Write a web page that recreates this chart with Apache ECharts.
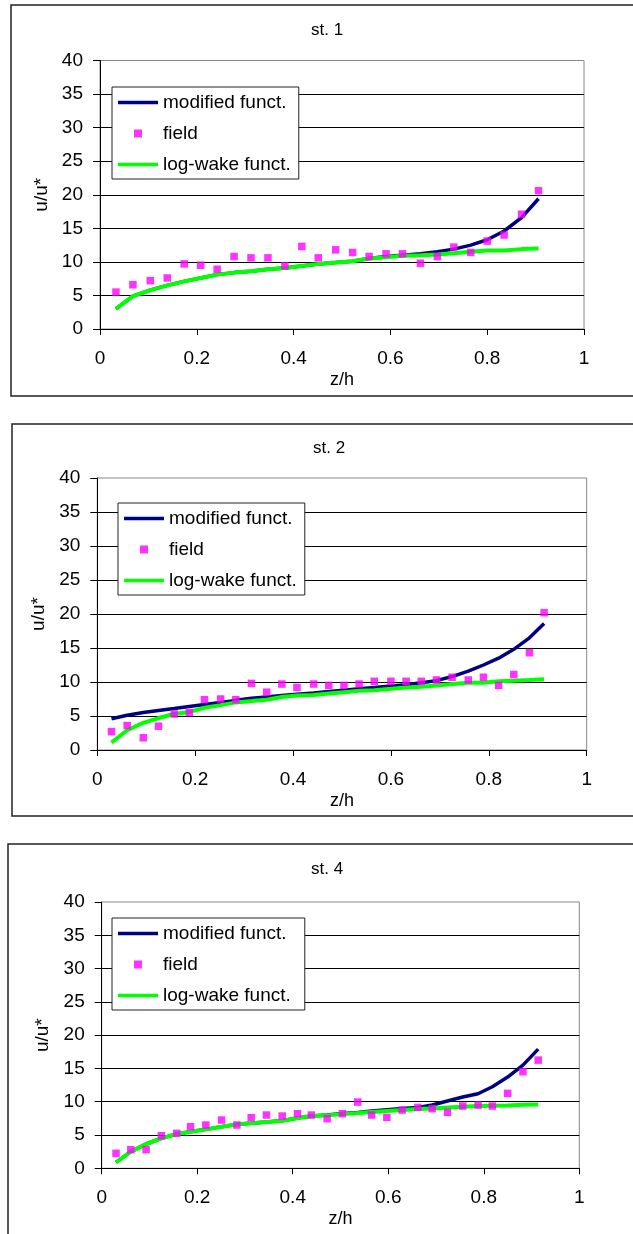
<!DOCTYPE html>
<html><head><meta charset="utf-8">
<script src="https://cdn.jsdelivr.net/npm/echarts@6/dist/echarts.min.js"></script>
<style>html,body{margin:0;padding:0;background:#fff}#c{width:633px;height:1234px}</style>
</head><body><div id="c"></div>
<script>
// ---------- data ----------
const seriesNames = ['modified funct.', 'field', 'log-wake funct.'];
const chartTitles = ['st. 1', 'st. 2', 'st. 4'];
const xTickValues = [0, 0.2, 0.4, 0.6, 0.8, 1];
const yTickValues = [0, 5, 10, 15, 20, 25, 30, 35, 40];
const xAxisName = 'z/h';
const yAxisName = 'u/u*';

// st. 1
const z1 = [0.033,0.068,0.104,0.139,0.174,0.208,0.242,0.277,0.312,0.347,0.382,0.417,0.451,0.487,0.522,0.556,0.591,0.625,0.662,0.697,0.731,0.766,0.800,0.835,0.871,0.906];
const field1 = [5.5,6.6,7.2,7.6,9.7,9.5,8.9,10.8,10.6,10.6,9.4,12.3,10.6,11.8,11.4,10.8,11.2,11.2,9.8,10.8,12.2,11.4,13.1,14.0,17.1,20.6];
const logwake1 = [3.0,4.9,5.8,6.5,7.1,7.6,8.1,8.4,8.6,8.9,9.1,9.4,9.7,9.9,10.1,10.5,10.7,10.9,11.0,11.1,11.3,11.5,11.7,11.7,11.9,12.0];
const modified1 = [3.0,4.9,5.8,6.5,7.1,7.6,8.1,8.4,8.6,8.9,9.1,9.4,9.7,9.9,10.1,10.5,10.8,11.0,11.2,11.5,11.9,12.5,13.3,14.6,16.6,19.4];

// st. 2
const z2 = [0.029,0.061,0.094,0.125,0.157,0.188,0.219,0.252,0.283,0.315,0.346,0.377,0.408,0.442,0.473,0.504,0.535,0.566,0.600,0.631,0.662,0.693,0.725,0.758,0.789,0.820,0.851,0.883,0.913];
const field2 = [2.7,3.6,1.8,3.5,5.3,5.5,7.4,7.5,7.4,9.8,8.5,9.7,9.2,9.7,9.5,9.5,9.7,10.1,10.1,10.1,10.1,10.3,10.7,10.3,10.7,9.5,11.1,14.3,20.2];
const logwake2 = [1.1,2.9,4.0,4.7,5.3,5.6,6.2,6.6,7.0,7.2,7.4,7.8,8.0,8.1,8.3,8.5,8.7,8.8,9.0,9.2,9.3,9.5,9.7,9.9,9.9,10.1,10.2,10.3,10.4];
const modified2 = [4.6,5.1,5.5,5.8,6.1,6.4,6.7,7.0,7.3,7.6,7.8,8.0,8.2,8.4,8.6,8.8,9.0,9.2,9.4,9.6,9.9,10.2,10.8,11.6,12.5,13.5,14.8,16.5,18.6];

// st. 4
const z3 = [0.030,0.061,0.093,0.125,0.157,0.186,0.218,0.251,0.283,0.313,0.345,0.378,0.410,0.439,0.472,0.504,0.536,0.565,0.597,0.629,0.662,0.692,0.724,0.756,0.788,0.818,0.850,0.882,0.914];
const field3 = [2.25,2.8,2.8,4.9,5.25,6.25,6.5,7.25,6.5,7.6,8.0,7.85,8.2,8.0,7.45,8.2,9.95,8.0,7.65,8.75,9.15,8.95,8.4,9.35,9.5,9.35,11.25,14.5,16.25];
const logwake3 = [0.9,2.5,3.65,4.5,5.15,5.5,5.85,6.25,6.6,6.75,6.95,7.15,7.55,7.85,7.95,8.15,8.3,8.45,8.6,8.75,8.9,9.0,9.15,9.25,9.35,9.4,9.45,9.55,9.6];
const modified3 = [0.9,2.5,3.65,4.5,5.15,5.5,5.85,6.25,6.6,6.75,6.95,7.15,7.55,7.85,8.0,8.25,8.4,8.6,8.8,9.0,9.15,9.5,10.1,10.7,11.2,12.25,13.7,15.5,17.9];

// ---------- layout (positions only) ----------
const FONT = '"Liberation Sans", Arial, sans-serif';
const LINE_ICON = 'path://M0,0H40V3.5H0Z';
const SQUARE_ICON = 'path://M0,0H8V8H0Z';
const panels = [
  {z: z1, mod: modified1, fld: field1, lw: logwake1,
   grid: {left: 100, top: 60.5, width: 484, height: 268.5},
   title: {left: 311, top: 21.5}, legend: {left: 112, top: 87, pr: 8},
   frame: {x: 11, y: 5, w: 700, h: 391}},
  {z: z2, mod: modified2, fld: field2, lw: logwake2,
   grid: {left: 97.3, top: 478, width: 489.4, height: 272},
   title: {left: 313, top: 439.5}, legend: {left: 118, top: 503, pr: 8},
   frame: {x: 12, y: 424, w: 700, h: 392}},
  {z: z3, mod: modified3, fld: field3, lw: logwake3,
   grid: {left: 101.7, top: 902, width: 477.6, height: 266.3},
   title: {left: 311, top: 860.5}, legend: {left: 112, top: 918, pr: 14},
   frame: {x: 8, y: 844, w: 700, h: 500}}
];

const zip = (xs, ys) => xs.map((x, i) => [x, ys[i]]);

const option = {
  animation: false,
  backgroundColor: '#fff',
  textStyle: {fontFamily: FONT},
  title: [], legend: [], grid: [], xAxis: [], yAxis: [], series: [],
  graphic: []
};

panels.forEach((p, i) => {
  option.graphic.push({
    type: 'rect', z: -10, silent: true,
    shape: {x: p.frame.x, y: p.frame.y, width: p.frame.w, height: p.frame.h},
    style: {fill: 'none', stroke: '#222', lineWidth: 1.5}
  });
  option.title.push({
    text: chartTitles[i], left: p.title.left, top: p.title.top, padding: 0,
    textStyle: {fontFamily: FONT, fontSize: 17, fontWeight: 'normal', color: '#000'}
  });
  option.legend.push({
    left: p.legend.left, top: p.legend.top, orient: 'vertical',
    padding: [6, p.legend.pr, 5, 6], itemGap: 12, itemWidth: 40, itemHeight: 8,
    backgroundColor: '#fff', borderColor: '#222', borderWidth: 1,
    selectedMode: false, symbolKeepAspect: true,
    itemStyle: {borderWidth: 0},
    textStyle: {fontFamily: FONT, fontSize: 19, color: '#000', padding: [0, 0, 0, 0]},
    data: [
      {name: seriesNames[0], icon: LINE_ICON},
      {name: seriesNames[1], icon: SQUARE_ICON},
      {name: seriesNames[2], icon: LINE_ICON}
    ]
  });
  option.grid.push(Object.assign({show: true, borderColor: '#888', borderWidth: 1, backgroundColor: 'transparent', containLabel: false}, p.grid));
  option.xAxis.push({
    type: 'value', gridIndex: i,
    min: xTickValues[0], max: xTickValues[xTickValues.length - 1],
    interval: xTickValues[1] - xTickValues[0],
    name: xAxisName, nameLocation: 'middle', nameGap: 42,
    nameTextStyle: {fontFamily: FONT, fontSize: 18, color: '#000'},
    axisLine: {show: true, onZero: false, lineStyle: {color: '#000', width: 1}},
    axisTick: {show: true, inside: false, length: 6, lineStyle: {color: '#000'}},
    axisLabel: {fontFamily: FONT, fontSize: 19, color: '#000', margin: 20},
    splitLine: {show: false}
  });
  option.yAxis.push({
    type: 'value', gridIndex: i,
    min: yTickValues[0], max: yTickValues[yTickValues.length - 1],
    interval: yTickValues[1] - yTickValues[0],
    name: yAxisName, nameLocation: 'middle', nameGap: 48, nameRotate: 90,
    nameTextStyle: {fontFamily: FONT, fontSize: 19, color: '#000'},
    axisLine: {show: true, onZero: false, lineStyle: {color: '#000', width: 1}},
    axisTick: {show: true, inside: false, length: 7, lineStyle: {color: '#000'}},
    axisLabel: {fontFamily: FONT, fontSize: 19, color: '#000', margin: 17},
    splitLine: {show: true, showMinLine: false, showMaxLine: false, lineStyle: {color: '#000', width: 1}}
  });
  option.series.push({
    name: seriesNames[0], type: 'line', xAxisIndex: i, yAxisIndex: i,
    data: zip(p.z, p.mod), symbol: 'none', smooth: false, z: 2,
    lineStyle: {color: '#000080', width: 3.5}, itemStyle: {color: '#000080', borderWidth: 0}
  });
  option.series.push({
    name: seriesNames[2], type: 'line', xAxisIndex: i, yAxisIndex: i,
    data: zip(p.z, p.lw), symbol: 'none', smooth: false, z: 3,
    lineStyle: {color: '#00ff00', width: 4}, itemStyle: {color: '#00ff00', borderWidth: 0}
  });
  option.series.push({
    name: seriesNames[1], type: 'scatter', xAxisIndex: i, yAxisIndex: i,
    data: zip(p.z, p.fld), symbol: 'rect', symbolSize: 7.5, z: 4,
    itemStyle: {color: '#ff00ff'}
  });
});

const chart = echarts.init(document.getElementById('c'), null, {renderer: 'canvas'});
chart.setOption(option);
</script>
</body></html>
